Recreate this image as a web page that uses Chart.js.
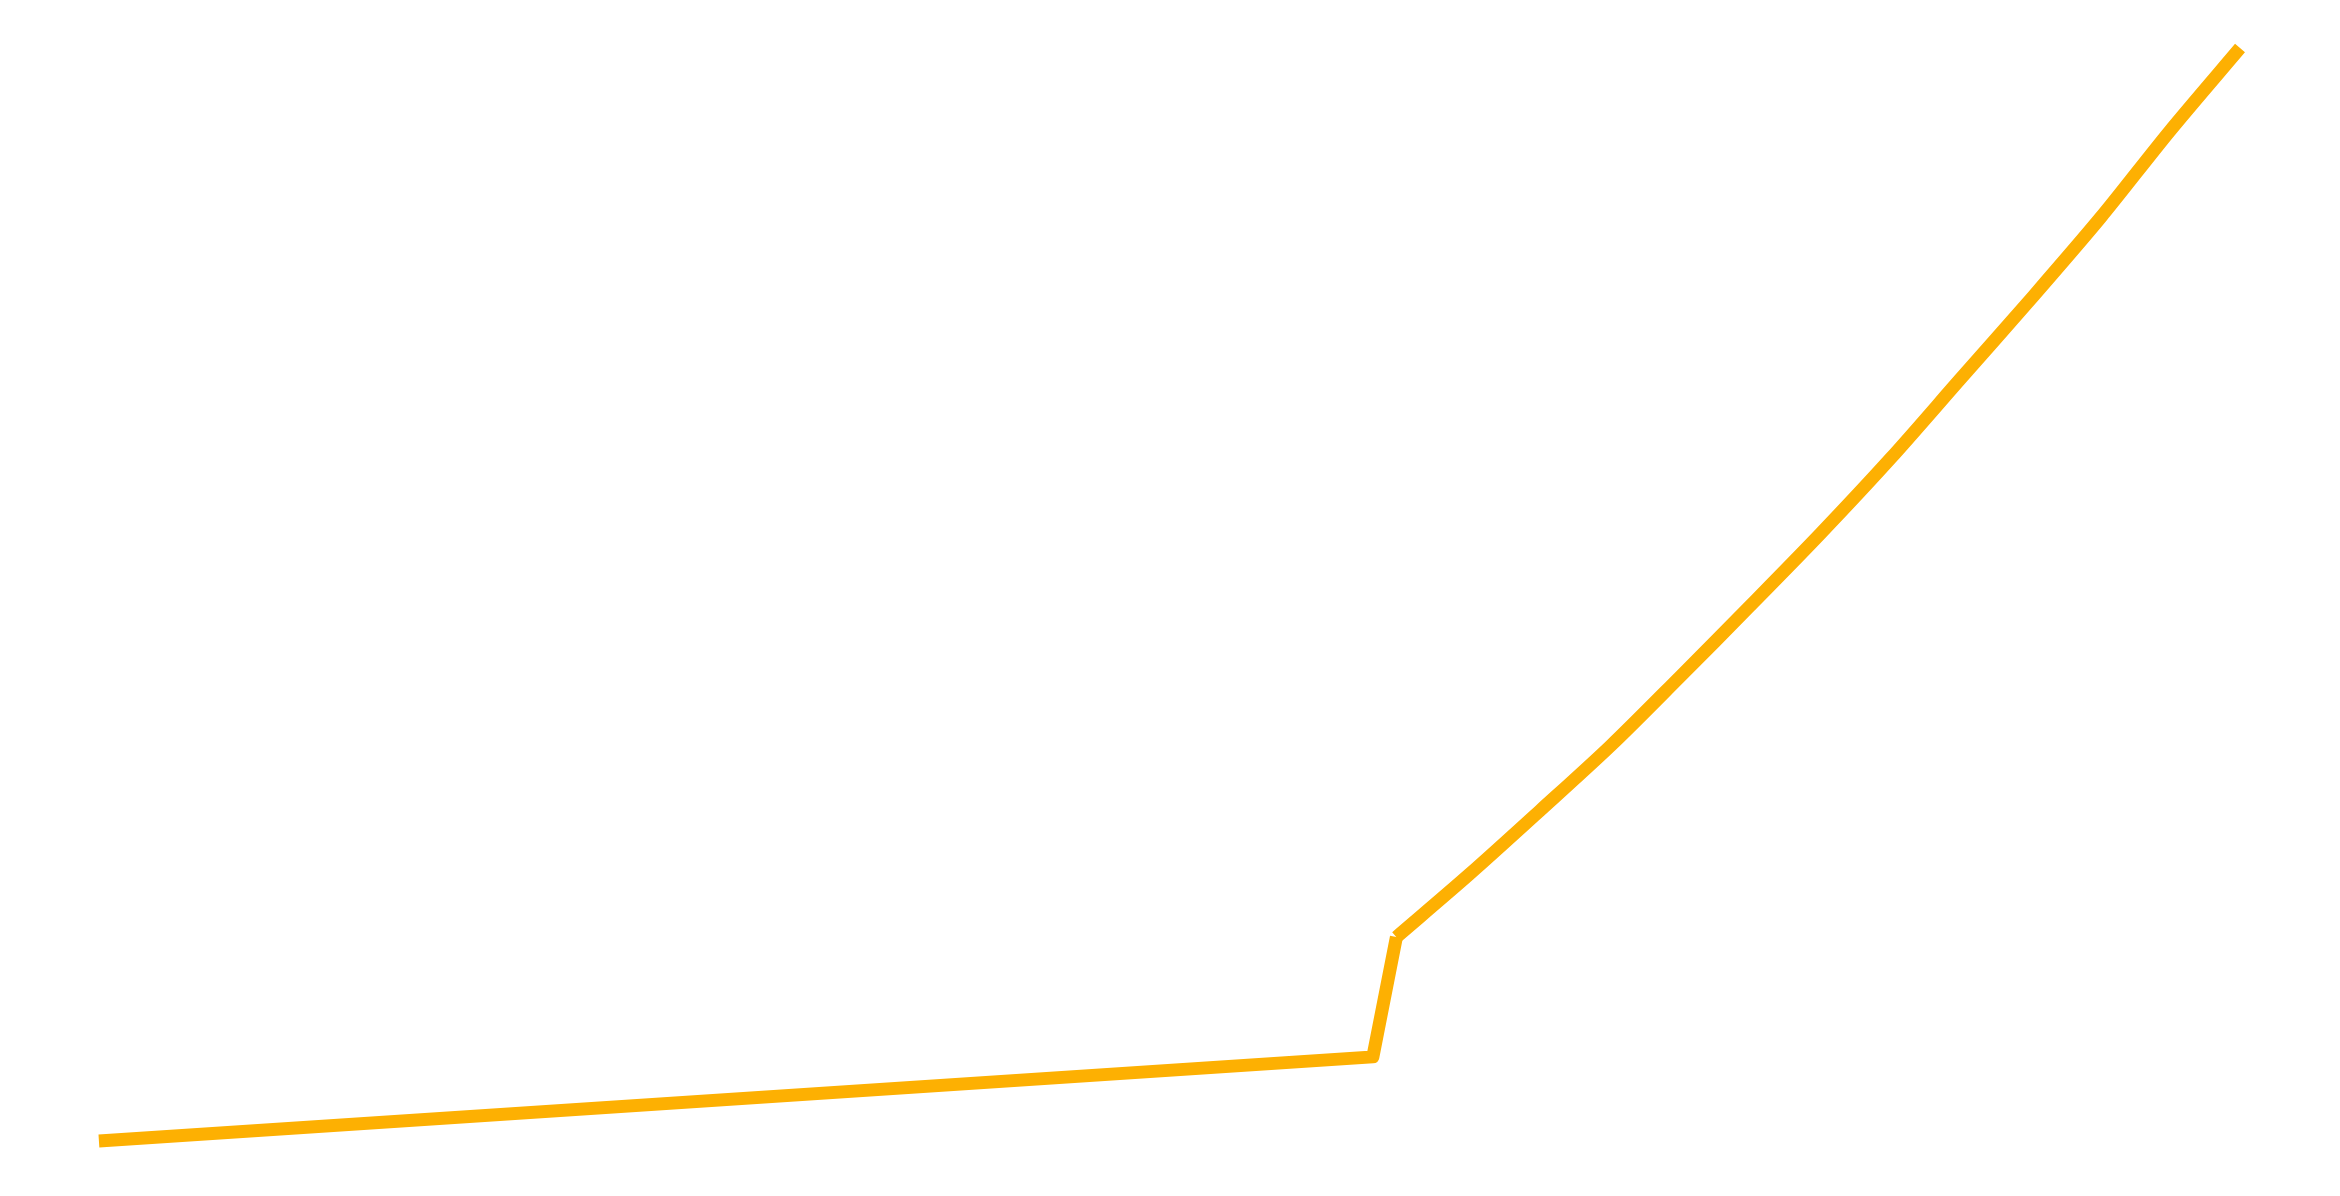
<!DOCTYPE html>
<html>
<head>
<meta charset="utf-8">
<script src="https://cdn.jsdelivr.net/npm/chart.js@4/dist/chart.umd.min.js"></script>
<style>
  html, body { margin: 0; padding: 0; background: #ffffff; overflow: hidden; }
  #wrap { width: 2340px; height: 1196px; }
</style>
</head>
<body>
<div id="wrap"><canvas id="chart" width="2340" height="1196"></canvas></div>
<script>
// lower part: slow straight rise, then the short steep jump
const lowX = [0, 59.5, 60.6];
const lowY = [0.55, 8.2, 19.1];

// upper part: smooth accelerating curve
const highX = [60.6, 64.0, 67.3, 70.6, 73.8, 77.1, 80.4, 83.7, 86.9, 90.2, 93.5, 96.7, 100];
const highY = [19.1, 24.8, 30.6, 36.5, 42.7, 49.2, 55.8, 62.7, 69.8, 77.1, 84.6, 92.4, 100];

const lineColor = '#FDB002';
const lineWidth = 13;

function toPoints(xs, ys) {
    return xs.map((x, i) => ({ x: x, y: ys[i] }));
}

new Chart(document.getElementById('chart'), {
    type: 'line',
    data: {
        datasets: [
            {
                data: toPoints(lowX, lowY),
                borderColor: lineColor,
                borderWidth: lineWidth,
                borderCapStyle: 'butt',
                borderJoinStyle: 'round',
                pointRadius: 0,
                tension: 0,
                fill: false
            },
            {
                data: toPoints(highX, highY),
                borderColor: lineColor,
                borderWidth: lineWidth,
                borderCapStyle: 'butt',
                borderJoinStyle: 'round',
                pointRadius: 0,
                tension: 0.3,
                fill: false
            }
        ]
    },
    options: {
        responsive: false,
        devicePixelRatio: 1,
        animation: false,
        layout: { padding: 0 },
        plugins: {
            legend: { display: false },
            tooltip: { enabled: false }
        },
        scales: {
            x: {
                type: 'linear',
                display: false,
                min: -4.62,
                max: 104.67
            },
            y: {
                type: 'linear',
                display: false,
                min: -4.46,
                max: 104.37
            }
        }
    }
});
</script>
</body>
</html>
